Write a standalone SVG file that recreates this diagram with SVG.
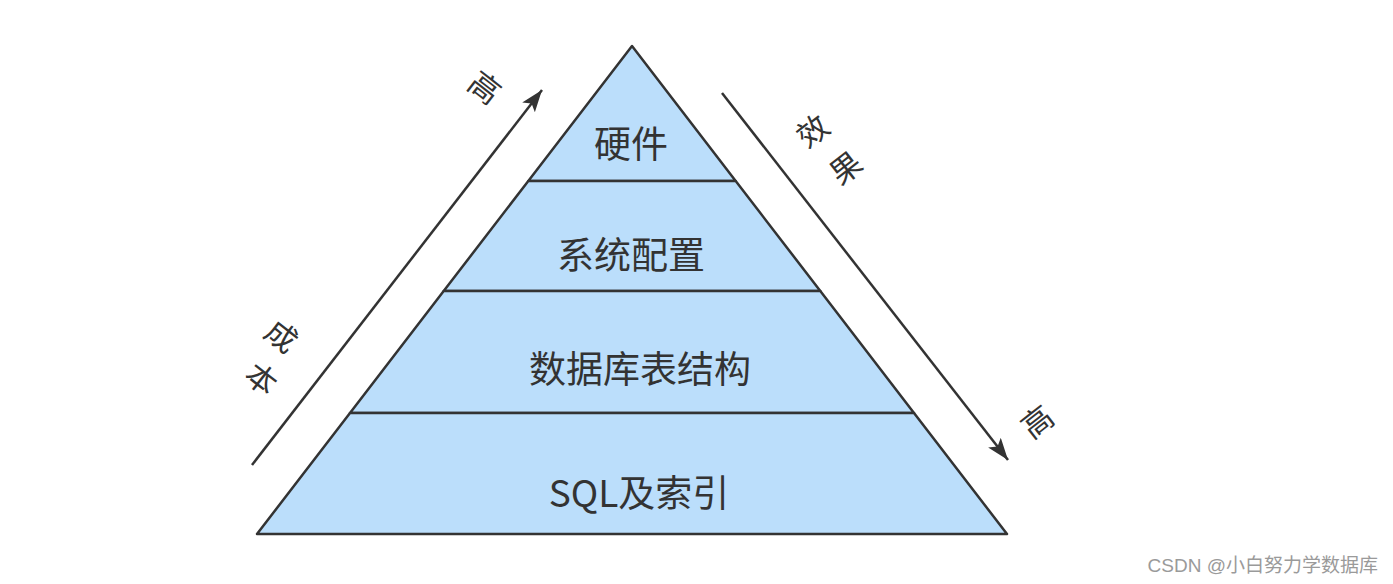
<svg xmlns="http://www.w3.org/2000/svg" width="1393" height="584" viewBox="0 0 1393 584">
  <style>
    .layer { fill: #bbdefb; stroke: #333333; stroke-width: 2.5; stroke-linejoin: round; }
    .lbl { font-family: "Noto Sans CJK SC", "Liberation Sans", sans-serif; font-size: 37px; fill: #333333; text-anchor: middle; dominant-baseline: central; }
    .side { font-family: "Noto Sans CJK SC", "Liberation Sans", sans-serif; font-size: 31px; fill: #333333; text-anchor: middle; dominant-baseline: central; }
    .arrow { stroke: #333333; stroke-width: 2.5; fill: none; }
    .wm { font-family: "Liberation Sans", "Noto Sans CJK SC", sans-serif; font-size: 19px; fill: #9a9a9a; text-anchor: end; }
  </style>
  <defs>
    <marker id="head" markerUnits="userSpaceOnUse" markerWidth="24" markerHeight="20" refX="22" refY="8" orient="auto">
      <path d="M0,0 L22,8 L0,16 L5,8 Z" fill="#333333"/>
    </marker>
  </defs>
  <rect width="1393" height="584" fill="#ffffff"/>

  <g id="layer-hardware">
    <polygon class="layer" points="632,46 735.7,181 528.3,181"/>
    <text class="lbl" x="631" y="142">硬件</text>
  </g>
  <g id="layer-config">
    <polygon class="layer" points="528.3,181 735.7,181 820.3,291 443.7,291"/>
    <text class="lbl" x="631" y="253">系统配置</text>
  </g>
  <g id="layer-schema">
    <polygon class="layer" points="443.7,291 820.3,291 914,413 350,413"/>
    <text class="lbl" x="640" y="367">数据库表结构</text>
  </g>
  <g id="layer-sql">
    <polygon class="layer" points="350,413 914,413 1007,534 257,534"/>
    <text class="lbl" x="639" y="491">SQL及索引</text>
  </g>

  <g id="connectors">
    <line class="arrow" x1="252" y1="465" x2="542" y2="90" marker-end="url(#head)"/>
    <line class="arrow" x1="722" y1="93" x2="1008" y2="460" marker-end="url(#head)"/>
  </g>

  <g id="cost-label">
    <text class="side" transform="translate(283,334) rotate(38)"><tspan x="0" y="0">成</tspan><tspan x="10.7" y="46">本</tspan></text>
    <text class="side" transform="translate(486,86) rotate(38)" x="0" y="0">高</text>
  </g>
  <g id="effect-label">
    <text class="side" transform="translate(811,129) rotate(-38)"><tspan x="0" y="0">效</tspan><tspan x="3.2" y="49.5">果</tspan></text>
    <text class="side" transform="translate(1036,420) rotate(-38)" x="0" y="0">高</text>
  </g>

  <text class="wm" x="1378" y="572">CSDN @小白努力学数据库</text>
</svg>
